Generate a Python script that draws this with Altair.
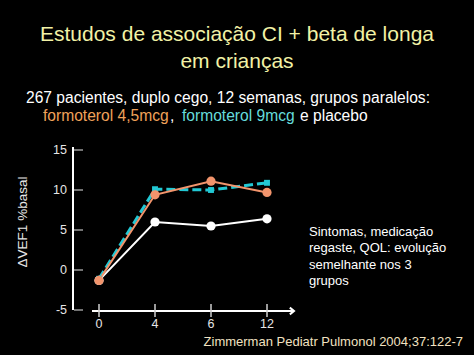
import altair as alt
import pandas as pd

weeks = ["0", "4", "6", "12"]
placebo = [-1.3, 6.0, 5.5, 6.4]
formo45 = [-1.3, 9.4, 11.1, 9.7]
formo9 = [-1.1, 10.1, 10.0, 10.9]
y_ticks = [-5, 0, 5, 10, 15]

title_lines = ["Estudos de associação CI + beta de longa", "em crianças"]
subtitle1 = ["267 pacientes, duplo cego, 12 semanas, grupos paralelos:"]
sub2_parts = ["formoterol 4,5mcg", ",", "formoterol 9mcg", "e placebo"]
note_lines = ["Sintomas, medicação", "regaste, QOL: evolução", "semelhante nos 3", "grupos"]
citation = ["Zimmerman Pediatr Pulmonol 2004;37:122-7"]
y_title = ["ΔVEF1 %basal"]

ORANGE = "#f2946c"
CYAN = "#22c8d4"
WHITE = "#ffffff"
FONT = "Liberation Sans"

df = pd.DataFrame({
    "week": weeks * 3,
    "value": placebo + formo45 + formo9,
    "series": ["placebo"] * 4 + ["f45"] * 4 + ["f9"] * 4,
})

xs = alt.X("week:N", sort=weeks, scale=alt.Scale(domain=weeks, range=[-2, 222]), axis=None)
ys = alt.Y("value:Q", scale=alt.Scale(domain=[-5, 15], nice=False, zero=False), axis=None)

base = alt.Chart(df)

def series(name):
    return base.transform_filter(alt.datum.series == name)

l_white = series("placebo").mark_line(color=WHITE, strokeWidth=2).encode(x=xs, y=ys)
l_cyan = series("f9").mark_line(color=CYAN, strokeWidth=3, strokeDash=[9, 4]).encode(x=xs, y=ys)
l_orange = series("f45").mark_line(color=ORANGE, strokeWidth=2).encode(x=xs, y=ys)
p_white = series("placebo").mark_point(filled=True, color=WHITE, size=85, opacity=1).encode(x=xs, y=ys)
p_cyan = series("f9").mark_point(filled=True, color=CYAN, shape="square", size=35, opacity=1).encode(x=xs, y=ys)
p_orange = series("f45").mark_point(filled=True, color=ORANGE, size=85, opacity=1).encode(x=xs, y=ys)

# y axis
ytick_df = pd.DataFrame({"v": y_ticks, "lab": [str(v) for v in y_ticks]})
yscale = alt.Y("v:Q", scale=alt.Scale(domain=[-5, 15], nice=False, zero=False), axis=None)
y_axis_line = alt.Chart(pd.DataFrame({"a": [0]})).mark_rule(color=WHITE, strokeWidth=2).encode(
    x=alt.value(0), y=alt.value(-3), y2=alt.value(160))
y_tick_rules = alt.Chart(ytick_df).mark_rule(color="#9a9a9a", strokeWidth=1.5).encode(
    y=yscale, x=alt.value(1), x2=alt.value(10))
y_tick_labels = alt.Chart(ytick_df).mark_text(align="right", baseline="middle", color="#e6e6e6",
                                               font=FONT, fontSize=12.5).encode(
    y=yscale, x=alt.value(-6), text="lab:N")
y_title_t = alt.Chart(pd.DataFrame({"t": y_title})).mark_text(angle=270, align="center", baseline="middle",
                                                               color="#e6e6e6", font=FONT, fontSize=13.5).encode(
    x=alt.value(-50), y=alt.value(72), text="t:N")

# x axis
xtick_df = pd.DataFrame({"week": weeks})
x_axis_line = alt.Chart(pd.DataFrame({"a": [0]})).mark_rule(color=WHITE, strokeWidth=2).encode(
    x=alt.value(19), x2=alt.value(221), y=alt.value(161))
x_arrow = alt.Chart(pd.DataFrame({"a": [0]})).mark_point(
    shape="M-1,-0.8L0,0L-1,0.8", filled=False, color=WHITE, strokeWidth=2, size=70, opacity=1).encode(
    x=alt.value(221), y=alt.value(161))
x_tick_rules = alt.Chart(xtick_df).mark_rule(color="#cfcfcf", strokeWidth=1.5).encode(
    x=xs, y=alt.value(154), y2=alt.value(167))
x_tick_labels = alt.Chart(xtick_df).mark_text(align="center", baseline="middle", color="#e6e6e6",
                                               font=FONT, fontSize=12.5).encode(
    x=xs, y=alt.value(174), text="week:N")

# texts
def txt(lines, x, y, color, size, align="left", line_height=None):
    kw = dict(align=align, baseline="middle", color=color, font=FONT, fontSize=size)
    if line_height:
        kw["lineBreak"] = "\n"
        kw["lineHeight"] = line_height
    return alt.Chart(pd.DataFrame({"t": ["\n".join(lines)]})).mark_text(**kw).encode(
        x=alt.value(x), y=alt.value(y), text="t:N")

title_t = txt(title_lines, 164, -115, "#f2f2a6", 21, align="center", line_height=27)
sub1_t = txt(subtitle1, -47, -52, WHITE, 15.6)
sub2a = txt([sub2_parts[0]], -30, -34, "#f0a25a", 15.6)
sub2b = txt([sub2_parts[1]], 97, -34, WHITE, 15.6)
sub2c = txt([sub2_parts[2]], 109, -34, "#66dcdc", 15.6)
sub2d = txt([sub2_parts[3]], 227, -34, WHITE, 15.6)
note_t = txt(note_lines, 236, 82, WHITE, 13, line_height=16.3)
cit_t = txt(citation, 390, 192, "#f2e2c0", 13, align="right")

chart = alt.layer(
    y_axis_line, y_tick_rules, y_tick_labels, y_title_t,
    x_axis_line, x_arrow, x_tick_rules, x_tick_labels,
    l_white, l_cyan, l_orange, p_white, p_cyan, p_orange,
    title_t, sub1_t, sub2a, sub2b, sub2c, sub2d, note_t, cit_t,
).properties(
    width=222, height=160,
    padding={"left": 73, "top": 150, "right": 179, "bottom": 45},
    autosize="none",
    background="black",
).configure_view(strokeWidth=0)

chart.save("out.html", embed_options={"renderer": "svg", "actions": False})
